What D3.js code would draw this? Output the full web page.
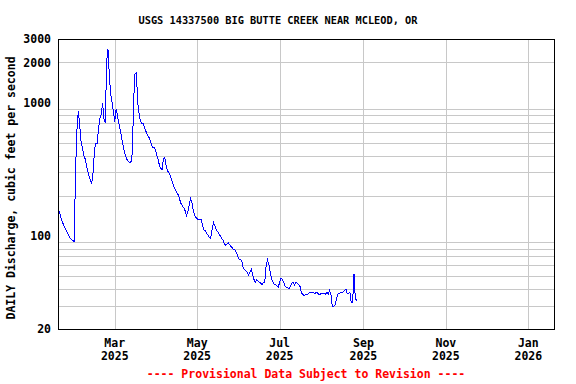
<!DOCTYPE html>
<html><head><meta charset="utf-8">
<script src="https://cdn.jsdelivr.net/npm/d3@7"></script>
<style>
html,body{margin:0;padding:0;background:#fff;}
svg{display:block;}
text{font-family:"DejaVu Sans Mono",monospace;font-weight:bold;}
</style></head>
<body>
<script>
// ---- data ----
const title = "USGS 14337500 BIG BUTTE CREEK NEAR MCLEOD, OR";
const yLabel = "DAILY Discharge, cubic feet per second";
const footer = "---- Provisional Data Subject to Revision ----";
const startDate = "2025-01-18"; // first daily value
const flow = [
  159,152,140,128,122,116,110,105,100,96,
  94,92,91,310,620,860,690,520,460,405,
  380,340,305,280,262,248,300,440,495,495,
  640,760,820,990,760,700,2030,2500,1600,1150,
  1000,860,720,900,800,700,630,550,485,435,
  395,375,360,355,360,420,1050,1650,1680,1000,
  830,720,700,700,650,610,580,555,530,490,
  460,465,440,410,375,340,320,316,380,390,
  335,308,298,285,265,245,230,220,210,203,
  188,175,168,163,155,141,150,168,192,180,
  158,143,138,134,132,133,132,120,111,109,
  104,101,97,96,112,126,119,112,108,104,
  100,96,93,88,85,87,89,86,83,81,
  79,78,75,70,67,67,65,58,56,55,
  53,51,53,56,51,47,45,47,46,45,
  44,43,44.5,45,60,66,61,54,48,45,
  43.5,43,42,41,45,48,47,45,42,41,
  41,40,42,44,45,43,45,44,43,42,
  37.5,36.5,35.5,36,36.5,36.5,37.5,37.5,37.5,37.5,
  37,37.5,37.5,36,36.5,37,37,37,36.5,38,
  36.5,39,36,29.5,29.3,30.5,33,36.5,37,37.5,
  37.5,38,39,40,37,37,37.5,31.5,31.5,52,
  34,32.5
];
const xDomain = ["2025-01-18", "2026-01-20"];
const xTicks = ["2025-03-01","2025-05-01","2025-07-01","2025-09-01","2025-11-01","2026-01-01"];
const yDomain = [20, 3000];
const yTickLabels = [20, 100, 1000, 2000, 3000];
const yGridValues = [30,40,50,60,70,80,90,200,300,400,500,600,700,800,900,2000];

// ---- layout ----
const W = 576, H = 384;
const m = {left: 58, right: 554, top: 39, bottom: 329};
const parse = d3.utcParse("%Y-%m-%d");
const t0 = parse(startDate);
const series = flow.map((v, i) => ({date: d3.utcDay.offset(t0, i), v}));

const x = d3.scaleUtc().domain(xDomain.map(parse)).range([m.left, m.right]);
const y = d3.scaleLog().domain(yDomain).range([m.bottom, m.top]);

const svg = d3.select("body").append("svg").attr("width", W).attr("height", H);
svg.append("rect").attr("width", W).attr("height", H).attr("fill", "#fff");

// grid
const grid = svg.append("g").attr("stroke", "#c8c8c8").attr("stroke-width", 1).attr("shape-rendering", "crispEdges");
grid.selectAll("line.h").data(yGridValues).join("line")
  .attr("x1", m.left).attr("x2", m.right)
  .attr("y1", d => Math.round(y(d)) + 0.5).attr("y2", d => Math.round(y(d)) + 0.5);
grid.selectAll("line.v").data(xTicks.map(parse)).join("line")
  .attr("y1", m.top).attr("y2", m.bottom)
  .attr("x1", d => Math.round(x(d)) + 0.5).attr("x2", d => Math.round(x(d)) + 0.5);

// line
svg.append("path").datum(series)
  .attr("fill", "none").attr("stroke", "#0000ff").attr("stroke-width", 1)
  .attr("shape-rendering", "crispEdges")
  .attr("d", d3.line().x(d => x(d.date)).y(d => y(d.v)));

// frame
svg.append("rect").attr("x", m.left + 0.5).attr("y", m.top + 0.5)
  .attr("width", m.right - m.left).attr("height", m.bottom - m.top)
  .attr("fill", "none").attr("stroke", "#000").attr("stroke-width", 1).attr("shape-rendering", "crispEdges");

// y ticks
svg.append("g").selectAll("text").data(yTickLabels).join("text")
  .attr("x", 51).attr("y", d => y(d)).attr("dy", "0.36em")
  .attr("text-anchor", "end").attr("font-size", 11.5).attr("fill", "#000")
  .text(d => d);

// x ticks
const fm = d3.utcFormat("%b"), fy = d3.utcFormat("%Y");
const xt = svg.append("g").selectAll("g").data(xTicks.map(parse)).join("g");
xt.append("text").attr("x", d => x(d)).attr("y", 347).attr("text-anchor", "middle")
  .attr("font-size", 11.5).text(d => fm(d));
xt.append("text").attr("x", d => x(d)).attr("y", 360).attr("text-anchor", "middle")
  .attr("font-size", 11.5).text(d => fy(d));

// title
svg.append("text").attr("x", 278).attr("y", 24).attr("text-anchor", "middle")
  .attr("font-size", 10.3).text(title);

// y label
svg.append("text").attr("transform", "translate(15,188) rotate(-90)")
  .attr("text-anchor", "middle").attr("font-size", 11.5).text(yLabel);

// footer
svg.append("text").attr("x", 306).attr("y", 378).attr("text-anchor", "middle")
  .attr("font-size", 11.5).attr("fill", "#ff0000").text(footer);
</script>
</body></html>
